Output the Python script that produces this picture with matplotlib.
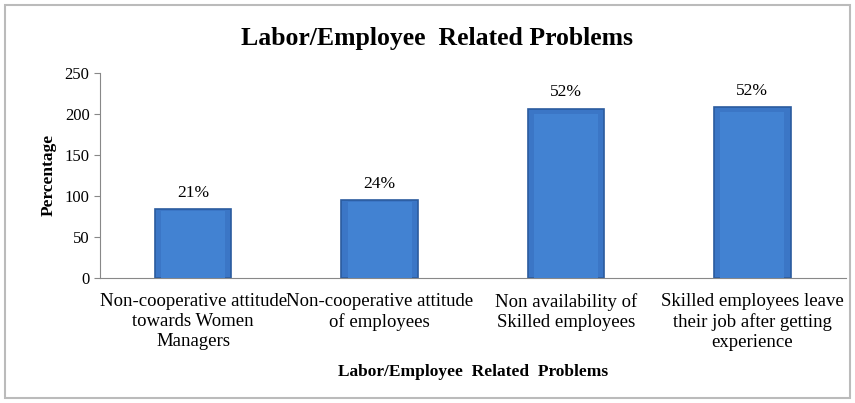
import numpy as np
import matplotlib.pyplot as plt
from matplotlib.patches import Rectangle

categories = ["Non-cooperative attitude\ntowards Women\nManagers",
              "Non-cooperative attitude\nof employees",
              "Non availability of\nSkilled employees",
              "Skilled employees leave\ntheir job after getting\nexperience"]
values = [84, 95, 206, 208]
pct_labels = ["21%", "24%", "52%", "52%"]
y_ticks = [0, 50, 100, 150, 200, 250]

plt.rcParams['font.family'] = ['Liberation Serif', 'DejaVu Serif']

fig = plt.figure(figsize=(8.55, 4.03), dpi=100)
ax = fig.add_axes([0.117, 0.31, 0.872, 0.51])

x = np.arange(len(categories))
bars = ax.bar(x, values, width=0.41, color="#3b76c6", edgecolor="#2b5b9e", linewidth=1.2, zorder=2)

# simple bevel look: lighter strip inside each bar
for b in bars:
    ax.add_patch(Rectangle((b.get_x() + b.get_width() * 0.08, 0), b.get_width() * 0.84, b.get_height() * 0.97,
                           facecolor="#4282d2", edgecolor="none", zorder=3))

for b, lab in zip(bars, pct_labels):
    ax.annotate(lab, (b.get_x() + b.get_width() / 2, b.get_height()), xytext=(0, 6),
                textcoords="offset points", ha="center", va="bottom", fontsize=12.5)

ax.set_xlim(-0.5, len(categories) - 0.5)
ax.set_ylim(0, 250)
ax.set_yticks(y_ticks)
ax.set_xticks(x)
ax.set_xticklabels(categories, fontsize=13.5, linespacing=1.2)
ax.tick_params(axis="x", length=0, pad=11)
ax.tick_params(axis="y", labelsize=12, length=4, color="#888888", direction="out")
for s in ["top", "right"]:
    ax.spines[s].set_visible(False)
ax.spines["left"].set_color("#888888")
ax.spines["bottom"].set_color("#888888")

ax.set_ylabel("Percentage", fontsize=12.5, fontweight="bold", labelpad=6)
ax.set_xlabel("Labor/Employee  Related  Problems", fontsize=12.5, fontweight="bold", labelpad=10)

fig.text(0.511, 0.905, "Labor/Employee  Related Problems", ha="center", va="center",
         fontsize=18.5, fontweight="bold")

fig.patches.append(Rectangle((0.006, 0.012), 0.988, 0.976, transform=fig.transFigure,
                             facecolor="none", edgecolor="#bbbbbb", linewidth=1.5))

fig.savefig("out.png", dpi=100)
